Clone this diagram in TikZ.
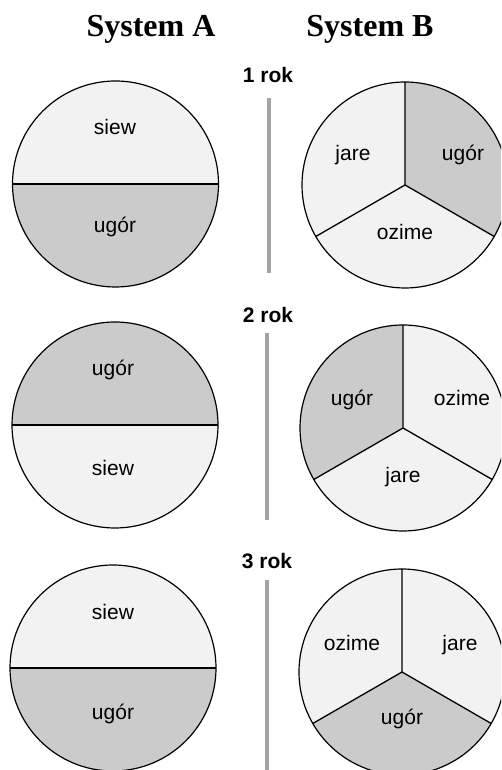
\documentclass[tikz,border=0pt]{standalone}
\usepackage{fontspec}
\setmainfont{Liberation Serif}
\newfontfamily\arialf{Liberation Sans}
\definecolor{darkfill}{HTML}{CBCBCB}
\definecolor{lightfill}{HTML}{F2F2F2}
\definecolor{barcol}{HTML}{A4A4A4}
\tikzset{
  disc/.style={draw=black, line width=1.2pt, circle, minimum size=206pt, inner sep=0pt, outer sep=0pt},
  divider/.style={draw=black, line width=1.3pt},
  lbl/.style={font=\arialf\fontsize{21}{25}\selectfont, anchor=mid, inner sep=0pt},
  yearlbl/.style={font=\arialf\bfseries\fontsize{21}{25}\selectfont, anchor=base, inner sep=0pt},
  header/.style={font=\bfseries\fontsize{32}{38}\selectfont, anchor=base, inner sep=0pt},
  yearbar/.style={draw=barcol, line width=4.5pt},
}
\begin{document}
\begin{tikzpicture}[x=1pt,y=1pt]
\useasboundingbox (0,0) rectangle (501,770);
\clip (0,0) rectangle (501,770);

% headers
\node[header] (hA) at (151,733) {System A};
\node[header] (hB) at (370,733) {System B};

% year labels and bars
\node[yearlbl] (y1) at (268,687) {1 rok};
\coordinate (b1t) at (269,672); \coordinate (b1b) at (269,497);
\draw[yearbar] (b1t) -- (b1b);
\node[yearlbl] (y2) at (268,447) {2 rok};
\coordinate (b2t) at (267,437); \coordinate (b2b) at (267,250);
\draw[yearbar] (b2t) -- (b2b);
\node[yearlbl] (y3) at (267,201) {3 rok};
\coordinate (b3t) at (267,190); \coordinate (b3b) at (267,-2);
\draw[yearbar] (b3t) -- (b3b);

% ---------- System A ----------
% year 1
\coordinate (cA1) at (115.5,586);
\fill[lightfill] (cA1) ++(0:103) arc[start angle=0,end angle=180,radius=103] -- cycle;
\fill[darkfill] (cA1) ++(180:103) arc[start angle=180,end angle=360,radius=103] -- cycle;
\node[disc] (A1) at (cA1) {};
\draw[divider] (A1.west) -- (A1.east);
\node[lbl] (A1s) at (115,638) {siew};
\node[lbl] (A1u) at (115,540) {ugór};
% year 2
\coordinate (cA2) at (115,345);
\fill[darkfill] (cA2) ++(0:103) arc[start angle=0,end angle=180,radius=103] -- cycle;
\fill[lightfill] (cA2) ++(180:103) arc[start angle=180,end angle=360,radius=103] -- cycle;
\node[disc] (A2) at (cA2) {};
\draw[divider] (A2.west) -- (A2.east);
\node[lbl] (A2u) at (113,397) {ugór};
\node[lbl] (A2s) at (113,297) {siew};
% year 3
\coordinate (cA3) at (113,102);
\fill[lightfill] (cA3) ++(0:103) arc[start angle=0,end angle=180,radius=103] -- cycle;
\fill[darkfill] (cA3) ++(180:103) arc[start angle=180,end angle=360,radius=103] -- cycle;
\node[disc] (A3) at (cA3) {};
\draw[divider] (A3.west) -- (A3.east);
\node[lbl] (A3s) at (113,153) {siew};
\node[lbl] (A3u) at (113,53) {ugór};

% ---------- System B ----------
% year 1: jare (upper left), ugor (upper right), ozime (bottom)
\coordinate (cB1) at (405,585);
\fill[lightfill] (cB1) -- ++(90:103) arc[start angle=90,end angle=210,radius=103] -- cycle;
\fill[darkfill] (cB1) -- ++(-30:103) arc[start angle=-30,end angle=90,radius=103] -- cycle;
\fill[lightfill] (cB1) -- ++(210:103) arc[start angle=210,end angle=330,radius=103] -- cycle;
\node[disc] (B1) at (cB1) {};
\draw[divider] (B1.north) -- (B1.center) -- (B1.210) (B1.center) -- (B1.-30);
\node[lbl] (B1j) at (353,612) {jare};
\node[lbl] (B1u) at (463,612) {ugór};
\node[lbl] (B1o) at (405,533) {ozime};
% year 2: ugor (upper left), ozime (upper right), jare (bottom)
\coordinate (cB2) at (403,342);
\fill[darkfill] (cB2) -- ++(90:103) arc[start angle=90,end angle=210,radius=103] -- cycle;
\fill[lightfill] (cB2) -- ++(-30:103) arc[start angle=-30,end angle=90,radius=103] -- cycle;
\fill[lightfill] (cB2) -- ++(210:103) arc[start angle=210,end angle=330,radius=103] -- cycle;
\node[disc] (B2) at (cB2) {};
\draw[divider] (B2.north) -- (B2.center) -- (B2.210) (B2.center) -- (B2.-30);
\node[lbl] (B2u) at (352,367) {ugór};
\node[lbl] (B2o) at (462,367) {ozime};
\node[lbl] (B2j) at (403,290) {jare};
% year 3: ozime (upper left), jare (upper right), ugor (bottom)
\coordinate (cB3) at (402,98);
\fill[lightfill] (cB3) -- ++(90:103) arc[start angle=90,end angle=210,radius=103] -- cycle;
\fill[lightfill] (cB3) -- ++(-30:103) arc[start angle=-30,end angle=90,radius=103] -- cycle;
\fill[darkfill] (cB3) -- ++(210:103) arc[start angle=210,end angle=330,radius=103] -- cycle;
\node[disc] (B3) at (cB3) {};
\draw[divider] (B3.north) -- (B3.center) -- (B3.210) (B3.center) -- (B3.-30);
\node[lbl] (B3o) at (352,122) {ozime};
\node[lbl] (B3j) at (460,122) {jare};
\node[lbl] (B3u) at (402,48) {ugór};
\end{tikzpicture}
\end{document}
